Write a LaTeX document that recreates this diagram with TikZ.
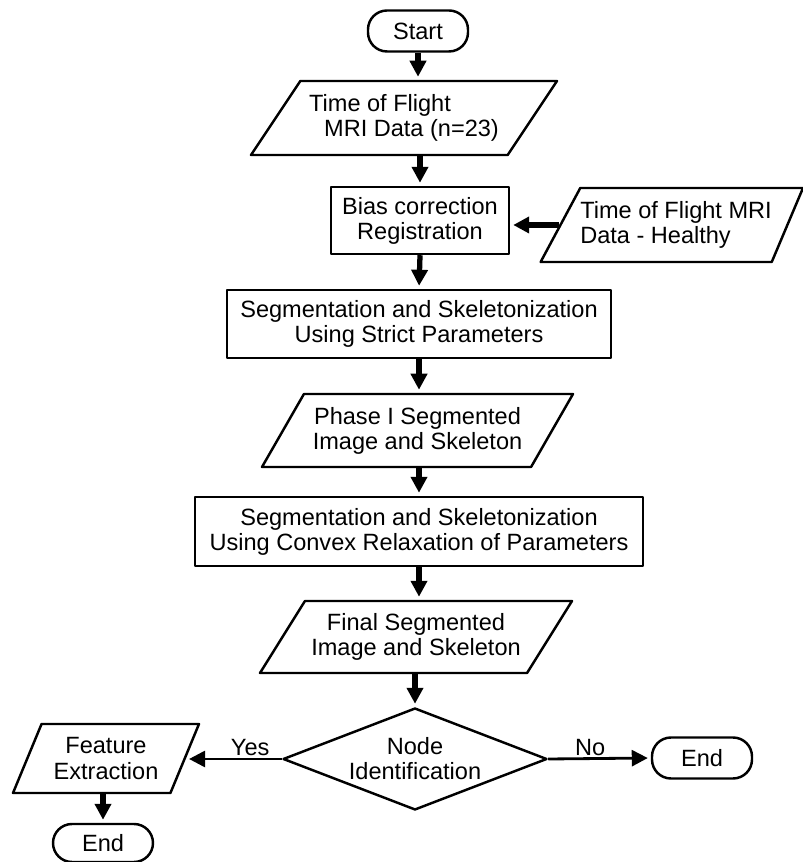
\documentclass[tikz,border=0pt]{standalone}
\usepackage{fontspec}
\setmainfont{Liberation Sans}
\usetikzlibrary{shapes.geometric,arrows.meta}
\begin{document}
\begin{tikzpicture}[font=\fontsize{13.4}{14.3}\selectfont, line join=round, line width=1.4pt,
    term/.style={draw, rectangle, rounded corners=0.38cm, minimum width=2cm, minimum height=0.82cm},
    proc/.style={draw, rectangle, align=center, minimum height=1.36cm, inner sep=2pt},
    io/.style={draw, trapezium, trapezium stretches body, align=center, minimum height=1.46cm, inner xsep=0pt},
    decide/.style={draw, diamond, aspect=2.6, align=center, inner sep=0pt, minimum width=5.28cm, minimum height=2.04cm},
    flow/.style={-{Triangle[length=0.32cm,width=0.32cm]}, line width=3pt, shorten >=0.06cm}]
  \useasboundingbox (0,0) rectangle (16.06,17.24);
  % main column
  \node[term] (start) at (8.36,16.62) {Start};
  \node[io, trapezium left angle=50, trapezium right angle=130, minimum width=6.12cm, minimum height=1.48cm, align=left] (tof) at (8.08,14.88) {Time of Flight\\\hspace*{0.3cm}MRI Data (n=23)};
  \node[proc, minimum width=3.56cm, minimum height=1.34cm] (bias) at (8.40,12.83) {Bias correction\\Registration};
  \node[io, trapezium left angle=56, trapezium right angle=118, minimum width=5.08cm, minimum height=1.48cm, align=left] (healthy) at (13.52,12.74) {Time of Flight MRI\\Data - Healthy};
  \node[proc, minimum width=7.68cm] (seg1) at (8.38,10.76) {Segmentation and Skeletonization\\Using Strict Parameters};
  \node[io, trapezium left angle=54.5, trapezium right angle=125.5, minimum width=6.22cm] (phase) at (8.35,8.63) {Phase I Segmented\\Image and Skeleton};
  \node[proc, minimum width=8.96cm, minimum height=1.38cm] (seg2) at (8.38,6.61) {Segmentation and Skeletonization\\Using Convex Relaxation of Parameters};
  \node[io, trapezium left angle=52.6, trapezium right angle=127.4, minimum width=6.24cm, minimum height=1.44cm] (final) at (8.32,4.50) {Final Segmented\\Image and Skeleton};
  \node[decide] (ident) at (8.30,2.06) {Node\\Identification};
  % branches
  \node[term] (endR) at (14.04,2.08) {End};
  \node[io, trapezium left angle=61.8, trapezium right angle=118.2, minimum width=3.72cm, minimum height=1.38cm] (feat) at (2.12,2.07) {Feature\\Extraction};
  \node[term, minimum height=0.76cm] (endL) at (2.06,0.38) {End};
  % connectors
  \draw[flow] (start.south) -- (start.south |- tof.north);
  \draw[flow] (bias.north |- tof.south) -- (bias.north);
  \draw[flow] (healthy.west) -- (healthy.west -| bias.east);
  \draw[flow] (bias.south) -- (seg1.north);
  \draw[flow] (seg1.south) -- (seg1.south |- phase.north);
  \draw[flow] (seg2.north |- phase.south) -- (seg2.north);
  \draw[flow] (seg2.south) -- (seg2.south |- final.north);
  \draw[flow] (ident.north |- final.south) -- (ident.north);
  \draw[flow, line width=1.6pt] (ident.west) -- (ident.west -| feat.east) node[pos=0.33, above, inner sep=1pt] {Yes};
  \draw[flow, line width=1.6pt] (ident.east) -- (endR.west) node[pos=0.41, above, inner sep=1pt] {No};
  \draw[flow] (endL.north |- feat.south) -- (endL.north);
\end{tikzpicture}
\end{document}
